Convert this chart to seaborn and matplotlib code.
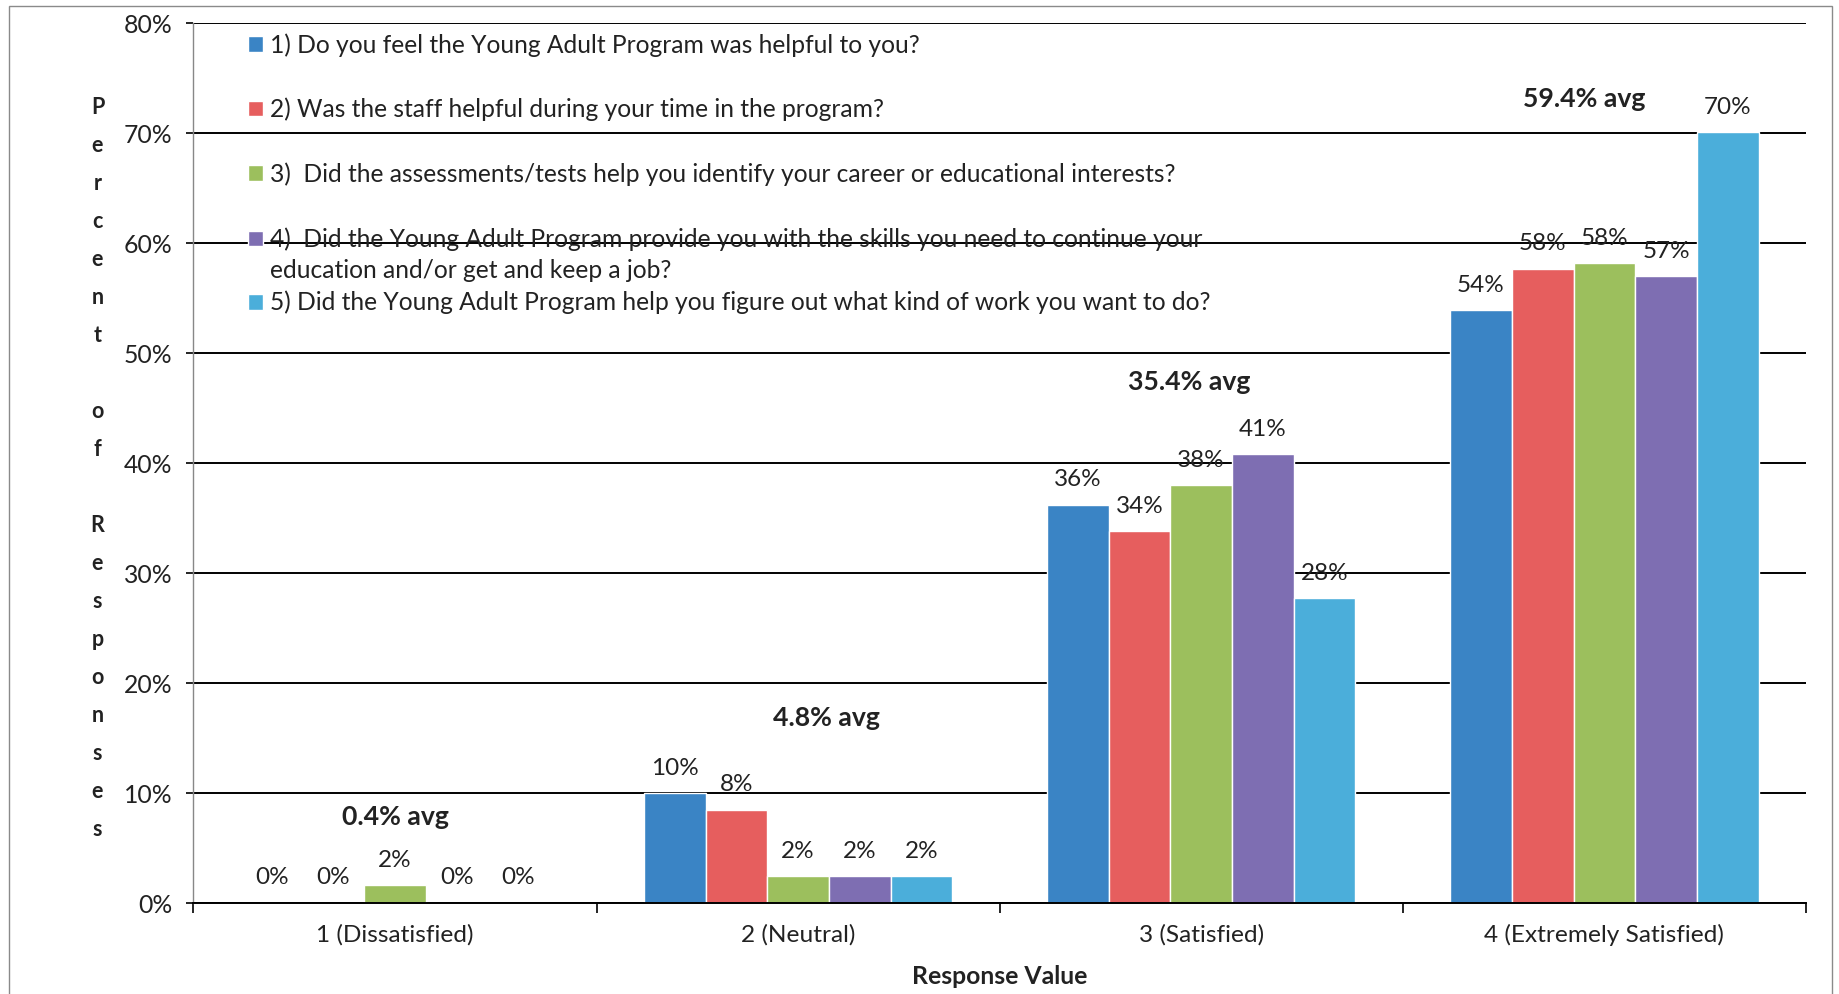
import matplotlib
matplotlib.use("Agg")
import matplotlib.pyplot as plt
import seaborn as sns
import pandas as pd
from matplotlib.patches import Rectangle

# ---------------- data ----------------
categories = ["1 (Dissatisfied)", "2 (Neutral)", "3 (Satisfied)", "4 (Extremely Satisfied)"]
questions = [
    "1) Do you feel the Young Adult Program was helpful to you?",
    "2) Was the staff helpful during your time in the program?",
    "3)  Did the assessments/tests help you identify your career or educational interests?",
    "4)  Did the Young Adult Program provide you with the skills you need to continue your",
    "5) Did the Young Adult Program help you figure out what kind of work you want to do?",
]
q4_second_line = "education and/or get and keep a job?"

q1_values = [0.0, 10.0, 36.2, 53.9]
q2_values = [0.0, 8.5, 33.8, 57.7]
q3_values = [1.6, 2.45, 38.0, 58.2]
q4_values = [0.0, 2.45, 40.8, 57.0]
q5_values = [0.0, 2.45, 27.7, 70.1]

q1_labels = [0, 10, 36, 54]
q2_labels = [0, 8, 34, 58]
q3_labels = [2, 2, 38, 58]
q4_labels = [0, 2, 41, 57]
q5_labels = [0, 2, 28, 70]

y_ticks = [0, 10, 20, 30, 40, 50, 60, 70, 80]
y_tick_labels = ["0%", "10%", "20%", "30%", "40%", "50%", "60%", "70%", "80%"]

colors = ["#3A84C5", "#E65E5E", "#9CBF5D", "#7E6EB2", "#4BAEDA"]

all_values = [q1_values, q2_values, q3_values, q4_values, q5_values]
all_labels = [q1_labels, q2_labels, q3_labels, q4_labels, q5_labels]

rows = []
for q, vals in zip(questions, all_values):
    for c, v in zip(categories, vals):
        rows.append({"category": c, "question": q, "value": v})
df = pd.DataFrame(rows)

# ---------------- figure ----------------
sns.set_theme(style="white")
plt.rcParams["font.family"] = ["Lato", "DejaVu Sans"]

fig = plt.figure(figsize=(18.39, 9.94), dpi=100)
ax = fig.add_axes([0.1052, 0.0915, 0.8768, 0.8849])

sns.barplot(data=df, x="category", y="value", hue="question",
            order=categories, hue_order=questions, palette=colors,
            width=0.765, saturation=1, gap=0, ax=ax, legend=True)

# value labels
for cont, labs in zip(ax.containers, all_labels):
    ax.bar_label(cont, labels=[f"{l}%" for l in labs], padding=10.5,
                 fontsize=17.5, color="#222222")

# averages
avg_pos = [(0.0, 7.8), (1.07, 16.8), (1.97, 47.4), (2.95, 73.1)]
for i, (px, py) in enumerate(avg_pos):
    avg = sum(l[i] for l in all_labels) / len(all_labels)
    ax.text(px, py, f"{avg:.1f}% avg", ha="center", va="center",
            fontsize=19.2, fontweight="bold", color="#222222")

# axes styling
ax.set_ylim(0, 80)
ax.set_xlim(-0.5, 3.5)
ax.set_yticks(y_ticks)
ax.set_yticklabels(y_tick_labels, fontsize=17.8, color="#222222")
ax.yaxis.grid(True, color="black", linewidth=1.4)
ax.set_axisbelow(True)
ax.tick_params(axis="y", which="major", length=5, width=1.2, color="black",
               pad=10, left=True)
ax.tick_params(axis="x", which="major", length=0, pad=15, labelsize=17.6,
               labelcolor="#222222")
ax.set_xticks(range(len(categories)))
ax.set_xticks([-0.5, 0.5, 1.5, 2.5, 3.5], minor=True)
ax.tick_params(axis="x", which="minor", length=7, width=1.2, color="black",
               bottom=True)
for s in ["top", "right"]:
    ax.spines[s].set_visible(False)
ax.spines["left"].set_color("#888888")
ax.spines["left"].set_linewidth(1.0)
ax.spines["bottom"].set_color("black")
ax.spines["bottom"].set_linewidth(1.4)

ax.set_xlabel("Response Value", fontsize=17.8, fontweight="bold",
              color="#222222", labelpad=14)
ax.set_ylabel("")

# legend (two blocks to mimic the original spacing)
handles, labels = ax.get_legend_handles_labels()
ax.get_legend().remove()
leg_kw = dict(loc="upper left", frameon=False, fontsize=17.7,
              handlelength=0.6, handleheight=0.6, handletextpad=0.28,
              borderpad=0, borderaxespad=0)
leg1 = ax.legend(handles[:3], labels[:3], bbox_to_anchor=(0.034, 0.989),
                 labelspacing=1.66, **leg_kw)
for t in leg1.get_texts():
    t.set_color("#222222")
ax.add_artist(leg1)
blank = Rectangle((0, 0), 1, 1, fill=False, edgecolor="none", visible=False)
leg2 = ax.legend([handles[3], blank, handles[4]],
                 [labels[3], q4_second_line, labels[4]],
                 bbox_to_anchor=(0.034, 0.768), labelspacing=0.34, **leg_kw)
for t in leg2.get_texts():
    t.set_color("#222222")

# stacked y-axis title
ytitle = "Percent of Responses"
fig.text(0.053, 0.529, "\n".join(list(ytitle)), ha="center", va="center",
         fontsize=15.5, fontweight="bold", linespacing=2.0, color="#222222")

# outer frame
fig.patches.append(Rectangle((0.0049, -0.01), 0.9913, 1.004, transform=fig.transFigure,
                             fill=False, edgecolor="#8a8a8a", linewidth=1.0))

fig.savefig("out.png", dpi=100)
